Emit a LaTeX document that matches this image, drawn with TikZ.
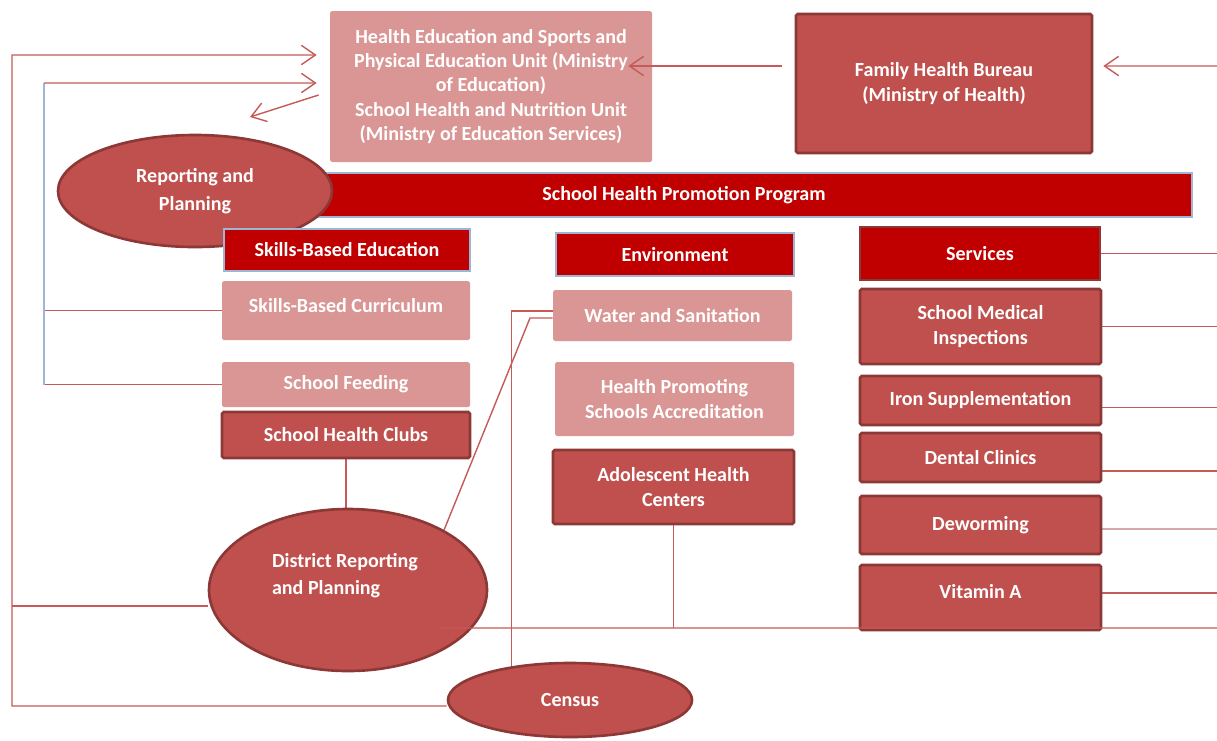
\documentclass[tikz,border=0pt]{standalone}
\usepackage{fontspec}
\setmainfont{Carlito}
\usetikzlibrary{shapes.geometric,arrows.meta,backgrounds}
\definecolor{deepred}{HTML}{C00000}
\definecolor{midred}{HTML}{C0504D}
\definecolor{darkred}{HTML}{8C3836}
\definecolor{palepink}{HTML}{D99694}
\definecolor{linkred}{HTML}{C55A58}
\definecolor{steel}{HTML}{9DB6D6}
\definecolor{greyline}{HTML}{D4A9A8}

\begin{document}
\begin{tikzpicture}
[txt/.style={text=white, font=\fontsize{11.4}{13.9}\selectfont\bfseries, align=center, inner sep=0pt},
pale/.style={txt, fill=palepink, rounded corners=1pt},
mid/.style={txt, fill=midred, draw=darkred, line width=1.5pt, rounded corners=1pt},
deep/.style={txt, fill=deepred, draw=steel, line width=0.6pt},
oval/.style={txt, ellipse, fill=midred, draw=darkred, line width=1.5pt},
link/.style={draw=linkred, line width=0.8pt},
blueline/.style={draw=steel, line width=0.8pt},
arr/.style={link, -{Straight Barb[length=8pt, width=11pt]}}]
\useasboundingbox (0,0) rectangle (24.34,-14.8);
% units at the top
\node[pale, minimum width=6.44cm, minimum height=3.02cm] (he) at (9.82,-1.73) {Health Education and Sports and\\Physical Education Unit (Ministry\\of Education)\\School Health and Nutrition Unit\\(Ministry of Education Services)};
\node[mid, minimum width=5.92cm, minimum height=2.78cm] (fhb) at (18.88,-1.67) {Family Health Bureau\\(Ministry of Health)};
\node[deep, minimum width=20.32cm, minimum height=0.88cm] (shpp) at (13.68,-3.9) {School Health Promotion Program};
\node[oval, minimum width=5.48cm, minimum height=2.24cm, font=\fontsize{11.4}{15.9}\selectfont\bfseries] (rp) at (3.9,-3.82) {Reporting and\\Planning};
% skills column
\node[deep, minimum width=4.92cm, minimum height=0.84cm] (sbe) at (6.94,-5.0) {Skills-Based Education};
\node[pale, minimum width=4.96cm, minimum height=1.18cm, text depth=5.7pt] (sbc) at (6.92,-6.21) {Skills-Based Curriculum};
\node[pale, minimum width=4.96cm, minimum height=0.9cm] (sf) at (6.92,-7.69) {School Feeding};
\node[mid, minimum width=4.96cm, minimum height=0.92cm] (shc) at (6.92,-8.7) {School Health Clubs};
% environment column
\node[deep, minimum width=4.76cm, minimum height=0.86cm] (env) at (13.5,-5.09) {Environment};
\node[pale, minimum width=4.78cm, minimum height=1.02cm] (ws) at (13.45,-6.31) {Water and Sanitation};
\node[pale, minimum width=4.78cm, minimum height=1.48cm] (hpsa) at (13.49,-7.98) {Health Promoting\\Schools Accreditation};
\node[mid, minimum width=4.82cm, minimum height=1.48cm] (ahc) at (13.47,-9.74) {Adolescent Health\\Centers};
% services column
\node[deep, draw=darkred, line width=1.5pt, minimum width=4.8cm, minimum height=1.06cm] (serv) at (19.6,-5.07) {Services};
\node[mid, minimum width=4.82cm, minimum height=1.5cm] (smi) at (19.61,-6.53) {School Medical\\Inspections};
\node[mid, minimum width=4.82cm, minimum height=0.98cm] (iron) at (19.61,-8.01) {Iron Supplementation};
\node[mid, minimum width=4.82cm, minimum height=0.98cm] (dental) at (19.61,-9.15) {Dental Clinics};
\node[mid, minimum width=4.82cm, minimum height=1.16cm] (dew) at (19.61,-10.5) {Deworming};
\node[mid, minimum width=4.82cm, minimum height=1.3cm, text depth=6.8pt] (vita) at (19.61,-11.95) {Vitamin A};
% district and census
\node[oval, minimum width=5.56cm, minimum height=3.24cm] (drp) at (6.96,-11.8) {};
\node[txt, align=left, font=\fontsize{11.4}{15.3}\selectfont\bfseries] (drptext) at (6.9,-11.51) {District Reporting\\and Planning};
\node[oval, minimum width=4.88cm, minimum height=1.48cm] (census) at (11.4,-14.0) {Census};
\coordinate (outer) at (0.24,-1.1);
\coordinate (inner) at (0.88,-1.66);
\coordinate (east) at (24.34,-1.32);
\coordinate (rpend) at (5.0,-2.34);
\coordinate (wsbend) at (10.6,-6.36);
\coordinate (base) at (24.34,-12.56);
\begin{pgfonlayer}{background}
\draw[arr] ([yshift=-0.12cm]census.west) -| (outer) -- ([shift={(-0.26,0.63)}]he.west);
\draw[link] ([yshift=-0.32cm]drp.west) -- ([yshift=-0.32cm]drp.west -| outer);
\draw[link] (sbc.west) -- (sbc.west -| inner);
\draw[link] (sf.west) -- (sf.west -| inner);
\draw[blueline] (sf.west -| inner) -- (inner);
\draw[arr] (inner) -- ([shift={(-0.26,0.07)}]he.west);
\draw[arr] ([shift={(-0.22,-0.17)}]he.west) -- (rpend);
\draw[link] (shc.south) -- (shc.south |- drp.north);
\draw[link] (drp.32) -- (wsbend) -- ([yshift=-0.05cm]ws.west);
\draw[link] ([yshift=0.09cm]ws.west) -| (census.150);
\draw[link] (ahc.south) -- (ahc.south |- base);
\draw[link] (serv.east) -- (serv.east -| base);
\draw[link] (smi.east) -- (smi.east -| base);
\draw[link] ([yshift=-0.14cm]iron.east) -- ([yshift=-0.14cm]iron.east -| base);
\draw[link] ([yshift=-0.27cm]dental.east) -- ([yshift=-0.27cm]dental.east -| base);
\draw[link, draw=greyline] ([yshift=-0.08cm]dew.east) -- ([yshift=-0.08cm]dew.east -| base);
\draw[link] ([yshift=0.09cm]vita.east) -- ([yshift=0.09cm]vita.east -| base);
\end{pgfonlayer}
\draw[arr] ([shift={(-0.26,0.35)}]fhb.west) -- ([shift={(-0.48,0.41)}]he.east);
\draw[arr] (east) -- ([shift={(0.2,0.35)}]fhb.east);
\draw[link] ([shift={(1.82,-0.76)}]drp.center) -- (base);
\end{tikzpicture}
\end{document}
